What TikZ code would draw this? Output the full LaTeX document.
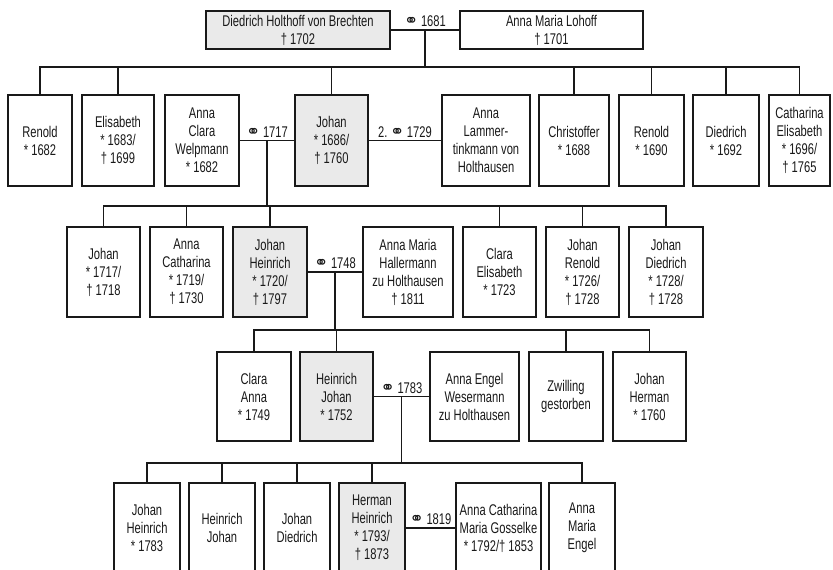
\documentclass[tikz,border=0pt]{standalone}
\usepackage{fontspec}
\setmainfont{Liberation Sans}[FakeStretch=0.72]
\newfontfamily\ringfont{DejaVu Sans}
\usetikzlibrary{positioning}
\definecolor{linegray}{RGB}{25,25,25}
\definecolor{lineal}{RGB}{234,234,234}
\newcommand{\ehe}{{\ringfont\fontsize{17}{14}\selectfont ⚭}}
\tikzset{
  pers/.style={draw=linegray,line width=1.2pt,fill=white,inner sep=0pt,align=center,
    font=\fontsize{15.5}{18}\selectfont,text=linegray},
  heir/.style={pers,fill=lineal},
  wed/.style={above,inner sep=2.5pt,font=\fontsize{15.5}{18}\selectfont,text=linegray},
  link/.style={draw=linegray,line width=1.2pt},
}
\begin{document}
\begin{tikzpicture}[x=1pt,y=-1pt]
  \useasboundingbox[fill=white] (0,0) rectangle (833,570);
  % generation 0
  \node[heir,minimum width=184pt,minimum height=38pt] (dhb) at (298,30) {Diedrich Holthoff von Brechten\\† 1702};
  \node[pers,minimum width=183pt,minimum height=38pt] (aml) at (551.5,30) {Anna Maria Lohoff\\† 1701};
  \draw[link] (dhb.east) -- node[wed]{\ehe\,1681} coordinate (m0) (aml.west);
  % generation 1
  \node[pers,minimum width=64pt,minimum height=91pt] (r1) at (40,140.5) {Renold\\* 1682};
  \node[pers,minimum width=72pt,minimum height=91pt] (el) at (118,140.5) {Elisabeth\\* 1683/\\† 1699};
  \node[pers,minimum width=74pt,minimum height=91pt] (acw) at (202,140.5) {Anna\\Clara\\Welpmann\\* 1682};
  \node[heir,minimum width=73pt,minimum height=91pt] (jo1) at (331.5,140.5) {Johan\\* 1686/\\† 1760};
  \node[pers,minimum width=88pt,minimum height=91pt] (alt) at (486,140.5) {Anna\\Lammer-\\tinkmann von\\Holthausen};
  \node[pers,minimum width=70pt,minimum height=91pt] (ch) at (574,140.5) {Christoffer\\* 1688};
  \node[pers,minimum width=65pt,minimum height=91pt] (r2) at (651.5,140.5) {Renold\\* 1690};
  \node[pers,minimum width=66pt,minimum height=91pt] (di) at (726,140.5) {Diedrich\\* 1692};
  \node[pers,minimum width=61pt,minimum height=91pt] (ce) at (799.5,140.5) {Catharina\\Elisabeth\\* 1696/\\† 1765};
  \coordinate (bar0) at (0,67);
  \draw[link] (m0) -- (m0 |- bar0);
  \draw[link] (r1.north) |- (ce.north |- bar0) -- (ce.north);
  \foreach \c in {el,jo1,ch,r2,di}
    \draw[link] (\c.north) -- (\c.north |- bar0);
  \draw[link] (acw.east) -- node[wed]{\ehe\,1717} coordinate (m1) (jo1.west);
  \draw[link] (jo1.east) -- node[wed]{2.\,\ehe\,1729} (alt.west);
  % generation 2
  \node[pers,minimum width=73pt,minimum height=90pt] (jo2) at (103.5,272) {Johan\\* 1717/\\† 1718};
  \node[pers,minimum width=73pt,minimum height=90pt] (ac) at (186.5,272) {Anna\\Catharina\\* 1719/\\† 1730};
  \node[heir,minimum width=74pt,minimum height=90pt] (jh) at (270,272) {Johan\\Heinrich\\* 1720/\\† 1797};
  \node[pers,minimum width=90pt,minimum height=90pt] (amh) at (408,272) {Anna Maria\\Hallermann\\zu Holthausen\\† 1811};
  \node[pers,minimum width=73pt,minimum height=90pt] (cle) at (499.5,272) {Clara\\Elisabeth\\* 1723};
  \node[pers,minimum width=73pt,minimum height=90pt] (jr) at (582.5,272) {Johan\\Renold\\* 1726/\\† 1728};
  \node[pers,minimum width=74pt,minimum height=90pt] (jd) at (666,272) {Johan\\Diedrich\\* 1728/\\† 1728};
  \coordinate (bar1) at (0,206);
  \draw[link] (m1) -- (m1 |- bar1);
  \draw[link] (jo2.north) |- (jd.north |- bar1) -- (jd.north);
  \foreach \c in {ac,jh,cle,jr}
    \draw[link] (\c.north) -- (\c.north |- bar1);
  \draw[link] (jh.east) -- node[wed]{\ehe\,1748} coordinate (m2) (amh.west);
  % generation 3
  \node[pers,minimum width=74pt,minimum height=89pt] (ca) at (254,396.5) {Clara\\Anna\\* 1749};
  \node[heir,minimum width=73pt,minimum height=89pt] (hj) at (336.5,396.5) {Heinrich\\Johan\\* 1752};
  \node[pers,minimum width=89pt,minimum height=89pt] (aew) at (474.5,396.5) {Anna Engel\\Wesermann\\zu Holthausen};
  \node[pers,minimum width=74pt,minimum height=89pt] (zw) at (566,396.5) {Zwilling\\gestorben};
  \node[pers,minimum width=73pt,minimum height=89pt] (jhe) at (649.5,396.5) {Johan\\Herman\\* 1760};
  \coordinate (bar2) at (0,330);
  \draw[link] (m2) -- (m2 |- bar2);
  \draw[link] (ca.north) |- (jhe.north |- bar2) -- (jhe.north);
  \foreach \c in {hj,zw}
    \draw[link] (\c.north) -- (\c.north |- bar2);
  \draw[link] (hj.east) -- node[wed]{\ehe\,1783} coordinate (m3) (aew.west);
  % generation 4
  \node[pers,minimum width=66pt,minimum height=90pt] (jh2) at (147,528) {Johan\\Heinrich\\* 1783};
  \node[pers,minimum width=66pt,minimum height=90pt] (hj2) at (222,528) {Heinrich\\Johan};
  \node[pers,minimum width=66pt,minimum height=90pt] (jd2) at (297,528) {Johan\\Diedrich};
  \node[heir,minimum width=66pt,minimum height=90pt] (hh) at (372,528) {Herman\\Heinrich\\* 1793/\\† 1873};
  \node[pers,minimum width=85pt,minimum height=90pt] (acg) at (498.5,528) {Anna Catharina\\Maria Gosselke\\* 1792/† 1853};
  \node[pers,minimum width=66pt,minimum height=90pt] (ame) at (582,528) {Anna\\Maria\\Engel};
  \coordinate (bar3) at (0,463);
  \draw[link] (m3) -- (m3 |- bar3);
  \draw[link] (jh2.north) |- (ame.north |- bar3) -- (ame.north);
  \foreach \c in {hj2,jd2,hh}
    \draw[link] (\c.north) -- (\c.north |- bar3);
  \draw[link] (hh.east) -- node[wed]{\ehe\,1819} (acg.west);
\end{tikzpicture}
\end{document}
